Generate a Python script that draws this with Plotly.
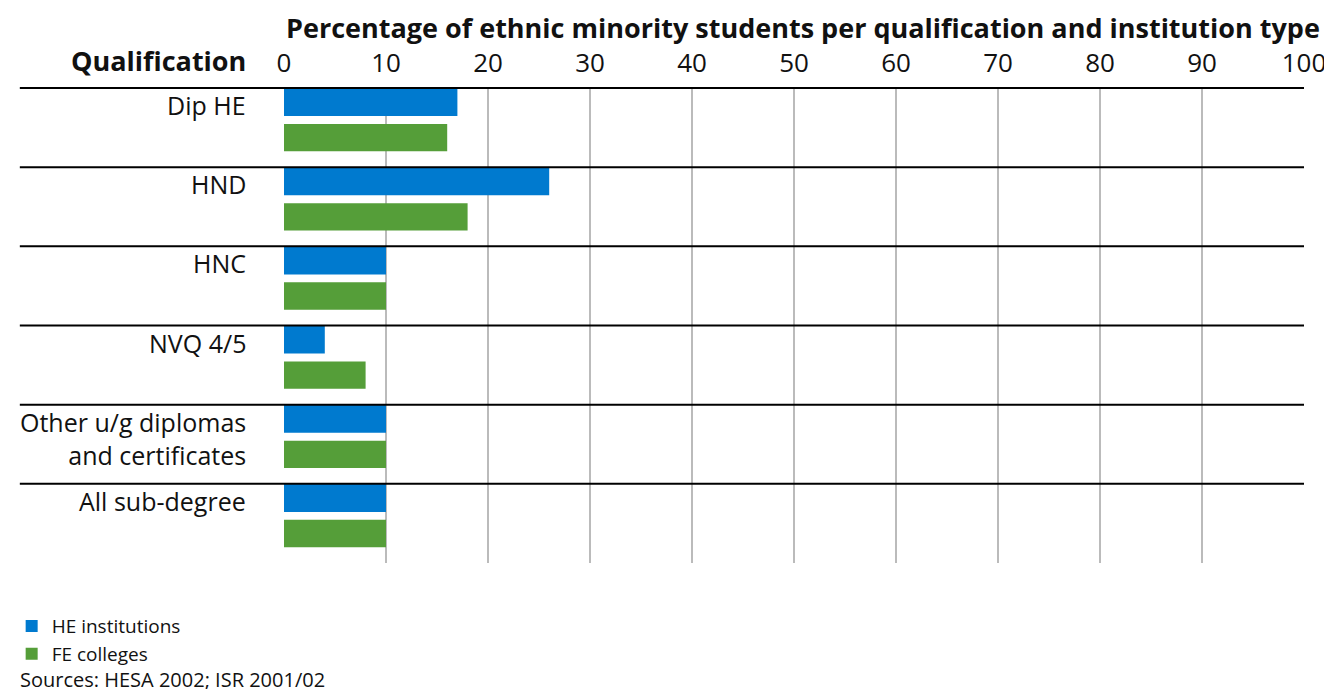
import plotly.graph_objects as go

categories = ["Dip HE", "HND", "HNC", "NVQ 4/5", "Other u/g diplomas<br>and certificates", "All sub-degree"]
he_values = [17, 26, 10, 4, 10, 10]
fe_values = [16, 18, 10, 8, 10, 10]
series_names = ["HE institutions", "FE colleges"]
tick_vals = [0, 10, 20, 30, 40, 50, 60, 70, 80, 90, 100]

BLUE = "#007ACF"
GREEN = "#559E39"
FONT = "Open Sans, sans-serif"
TXT = "#111111"

fig = go.Figure()
fig.add_trace(go.Bar(y=list(range(len(categories))), x=he_values, orientation="h", name=series_names[0],
                     marker=dict(color=BLUE, line=dict(width=0)), width=0.355, offset=-0.5))
fig.add_trace(go.Bar(y=list(range(len(categories))), x=fe_values, orientation="h", name=series_names[1],
                     marker=dict(color=GREEN, line=dict(width=0)), width=0.345, offset=-0.045))

n = len(categories)
shapes = []
for i in range(n):
    yp = 1 - i / n
    shapes.append(dict(type="line", xref="paper", yref="paper", x0=-0.259, x1=1.0, y0=yp, y1=yp,
                       line=dict(color="black", width=2)))

annotations = []
for i, c in enumerate(categories):
    annotations.append(dict(x=-0.035, xref="paper", y=i - 0.5, yref="y", yanchor="top", xanchor="right",
                            yshift=2, text=c, showarrow=False, align="right",
                            font=dict(size=25, color=TXT, family=FONT)))
annotations.append(dict(x=-0.035, xref="paper", y=1.0, yref="paper", yshift=28, xanchor="right", yanchor="middle",
                        text="<b>Qualification</b>", showarrow=False, font=dict(size=27, color=TXT, family=FONT)))
annotations.append(dict(x=0.0, xref="paper", y=1.0, yref="paper", yshift=61, xanchor="left", yanchor="middle",
                        text="<b>Percentage of ethnic minority students per qualification and institution type</b>",
                        showarrow=False, font=dict(size=27, color=TXT, family=FONT)))
annotations.append(dict(x=-0.261, xref="paper", y=-0.245, yref="paper", xanchor="left", yanchor="middle",
                        text="Sources: HESA 2002; ISR 2001/02", showarrow=False,
                        font=dict(size=20, color=TXT, family=FONT)))

# page body adds an 8px offset; figure sized so plot area lands at x 284-1304, y 88-563 in the window
fig.update_layout(
    width=1324, height=681,
    margin=dict(l=276, r=28, t=80, b=126, autoexpand=False),
    paper_bgcolor="white", plot_bgcolor="white",
    barmode="group",
    font=dict(family=FONT, color=TXT),
    xaxis=dict(side="top", range=[0, 100], tickvals=tick_vals, showgrid=True, gridcolor="#BBBBBB", gridwidth=2,
               zeroline=False, showline=False, ticks="", tickfont=dict(size=26, color=TXT, family=FONT),
               ticklabelstandoff=10, fixedrange=True),
    yaxis=dict(range=[n - 0.5, -0.5], showticklabels=False, showgrid=False, zeroline=False, ticks="",
               fixedrange=True),
    showlegend=True,
    legend=dict(x=-0.267, xanchor="left", y=-0.093, yanchor="top", orientation="v",
                font=dict(size=19, color=TXT, family=FONT), traceorder="normal",
                itemclick=False, tracegroupgap=0, bgcolor="rgba(0,0,0,0)"),
    shapes=shapes,
    annotations=annotations,
)

fig.write_html("out.html")
